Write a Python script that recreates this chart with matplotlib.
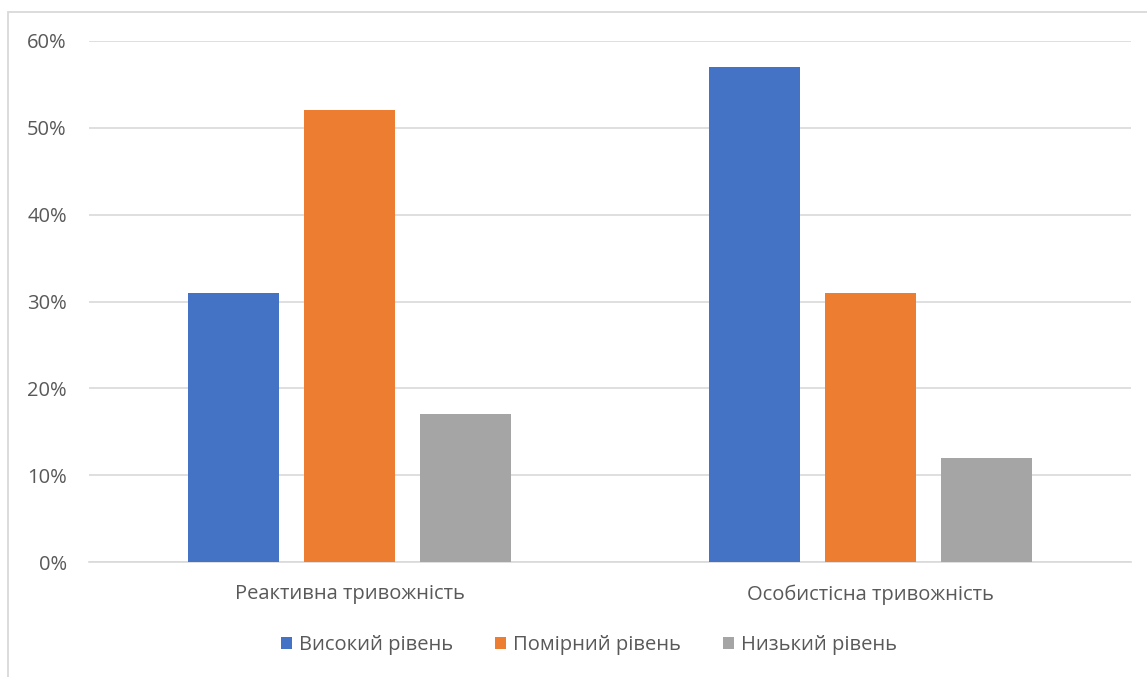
import matplotlib.pyplot as plt
from matplotlib.patches import Rectangle
from matplotlib.ticker import FuncFormatter

plt.rcParams['font.family'] = ['Open Sans', 'DejaVu Sans']

categories = ["Реактивна тривожність", "Особистісна тривожність"]
series_names = ["Високий рівень", "Помірний рівень", "Низький рівень"]
high = [31, 57]
moderate = [52, 31]
low = [17, 12]
colors = ["#4472C4", "#ED7D31", "#A5A5A5"]
y_ticks = [0, 10, 20, 30, 40, 50, 60]

W, H = 1147, 677
fig = plt.figure(figsize=(W / 100, H / 100), dpi=100)

# chart frame (left and top edges visible)
fig.add_artist(Rectangle((8 / W, -0.1), 1.2, (H - 12) / H + 0.1,
                         transform=fig.transFigure, fill=False,
                         edgecolor="#D9D9D9", linewidth=1.3))

left, right = 89 / W, 1131 / W
bottom, top = 1 - 562 / H, 1 - 41 / H
ax = fig.add_axes([left, bottom, right - left, top - bottom])

bar_w = 0.175
offset = 0.2226
values = [high, moderate, low]
for i, (name, vals, c) in enumerate(zip(series_names, values, colors)):
    xs = [k + (i - 1) * offset for k in range(len(categories))]
    ax.bar(xs, vals, width=bar_w, color=c, label=name, zorder=3)

ax.set_xlim(-0.5, len(categories) - 0.5)
ax.set_ylim(0, 60)
ax.set_yticks(y_ticks)
ax.yaxis.set_major_formatter(FuncFormatter(lambda v, p: f"{int(v)}%"))
ax.grid(axis="y", color="#D9D9D9", linewidth=1.2, zorder=0)
ax.set_xticks(range(len(categories)))
ax.set_xticklabels(categories)
for s in ["top", "right", "left"]:
    ax.spines[s].set_visible(False)
ax.spines["bottom"].set_color("#D9D9D9")
ax.spines["bottom"].set_linewidth(1.2)
ax.tick_params(axis="both", length=0, labelsize=14.5, labelcolor="#595959")
ax.tick_params(axis="y", pad=16)
ax.tick_params(axis="x", pad=16)

leg = fig.legend(loc="center", bbox_to_anchor=(589 / W, 1 - 645 / H), ncol=3,
                 frameon=False, fontsize=14.5, handlelength=0.55, handleheight=0.55,
                 handletextpad=0.35, columnspacing=2.1)
for t in leg.get_texts():
    t.set_color("#595959")

fig.savefig("out.png", dpi=100)
